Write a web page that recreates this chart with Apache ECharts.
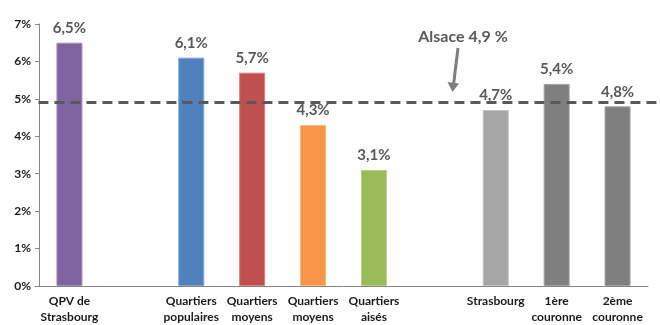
<!DOCTYPE html>
<html>
<head>
<meta charset="utf-8">
<script src="https://cdn.jsdelivr.net/npm/echarts@6/dist/echarts.min.js"></script>
<style>
  html, body { margin: 0; padding: 0; background: #fff; }
  #chart { width: 660px; height: 325px; }
</style>
</head>
<body>
<div id="chart"></div>
<script>
// Unemployment rate by area type; empty slots separate the three groups
const categories = [
  'QPV de\nStrasbourg', '',
  'Quartiers\npopulaires', 'Quartiers\nmoyens', 'Quartiers\nmoyens', 'Quartiers\naisés', '',
  'Strasbourg', '1ère\ncouronne', '2ème\ncouronne'
];
const values = [6.5, null, 6.1, 5.7, 4.3, 3.1, null, 4.7, 5.4, 4.8];
const barColors = ['#8064A2', null, '#4F81BD', '#C0504D', '#F79646', '#9BBB59', null, '#A6A6A6', '#7F7F7F', '#7F7F7F'];
const edgeColors = ['#A08CBB', null, '#7FA3D3', '#D48381', '#FAB783', '#B8D088', null, '#C2C2C2', '#A3A3A3', '#A3A3A3'];
const yTicks = [0, 1, 2, 3, 4, 5, 6, 7];
const alsaceRate = 4.9;
const alsaceLabel = 'Alsace 4,9 %';

const fmt = v => String(v).replace('.', ',') + '%';

const chart = echarts.init(document.getElementById('chart'));
chart.setOption({
  animation: false,
  grid: { left: 39, right: 12, top: 24, bottom: 35, containLabel: false },
  xAxis: {
    type: 'category',
    data: categories,
    axisLine: { lineStyle: { color: '#868686', width: 1 } },
    axisTick: { show: false },
    axisLabel: {
      interval: 0,
      color: '#1a1a1a',
      fontFamily: 'Lato',
      fontWeight: 'bold',
      fontSize: 12,
      lineHeight: 16,
      margin: 7
    }
  },
  yAxis: {
    type: 'value',
    min: yTicks[0],
    max: yTicks[yTicks.length - 1],
    interval: 1,
    axisLine: { show: true, lineStyle: { color: '#868686', width: 1 } },
    axisTick: { show: true, length: 4, lineStyle: { color: '#868686' } },
    splitLine: { show: false },
    axisLabel: {
      color: '#1a1a1a',
      fontFamily: 'Lato',
      fontWeight: 'bold',
      fontSize: 12,
      margin: 8,
      formatter: v => v + '%'
    }
  },
  series: [{
    type: 'bar',
    barWidth: 26,
    data: values.map((v, i) => v == null ? null : ({
      value: v,
      itemStyle: { color: barColors[i], borderColor: edgeColors[i], borderWidth: 1 }
    })),
    label: {
      show: true,
      position: 'top',
      distance: 7,
      color: '#595959',
      fontFamily: 'Lato',
      fontWeight: 'bold',
      fontSize: 15,
      formatter: p => fmt(p.value)
    }
  }]
});

// Regional reference line and its annotation, placed from the value scale
function drawReference() {
  const y = chart.convertToPixel({ yAxisIndex: 0 }, alsaceRate);
  const x0 = chart.convertToPixel({ xAxisIndex: 0 }, 0) - 31;
  chart.setOption({
    graphic: [
      {
        type: 'line',
        shape: { x1: x0, y1: y, x2: 660, y2: y },
        style: { stroke: '#595959', lineWidth: 3, lineDash: [10, 6] },
        z: 10
      },
      {
        type: 'text',
        x: 463, y: 37,
        style: {
          text: alsaceLabel,
          fill: '#595959',
          font: 'bold 16px Lato',
          align: 'center',
          verticalAlign: 'middle'
        },
        z: 10
      },
      {
        type: 'line',
        shape: { x1: 458, y1: 48, x2: 453.6, y2: 84 },
        style: { stroke: '#7F7F7F', lineWidth: 3 },
        z: 10
      },
      {
        type: 'polygon',
        shape: { points: [[447.5, 82], [459, 83.5], [452.5, 92]] },
        style: { fill: '#7F7F7F' },
        z: 10
      }
    ]
  });
}
drawReference();
</script>
</body>
</html>
